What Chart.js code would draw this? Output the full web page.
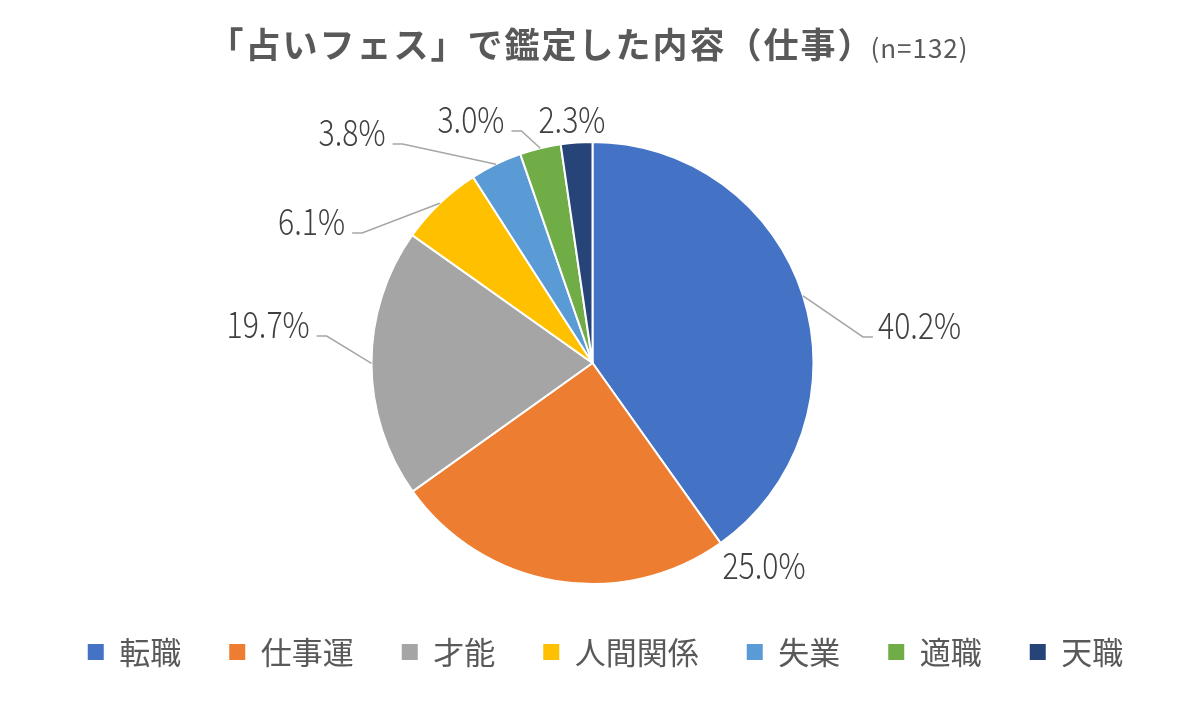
<!DOCTYPE html>
<html><head><meta charset="utf-8">
<script src="https://cdn.jsdelivr.net/npm/chart.js@4"></script>
<style>html,body{margin:0;padding:0;background:#fff;} #wrap{width:1185px;height:712px;position:relative;}</style>
</head><body><div id="wrap"><canvas id="c"></canvas></div>
<script>
const titleMain = '「占いフェス」で鑑定した内容（仕事）';
const titleSub = '(n=132)';
const categories = ['転職', '仕事運', '才能', '人間関係', '失業', '適職', '天職'];
const shares = [40.2, 25.0, 19.7, 6.1, 3.8, 3.0, 2.3];
const colors = ['#4472C4', '#ED7D31', '#A5A5A5', '#FFC000', '#5B9BD5', '#70AD47', '#264478'];

// label layout: offsets of label centres from pie centre, in units of the pie radius
const labelOffsets = [[1.480, -0.172], [0.776, 0.914], [-1.468, -0.176], [-1.271, -0.643], [-1.088, -1.045], [-0.550, -1.104], [-0.093, -1.104]];
const labelLeaders = [true, false, true, true, true, true, false];

const LABEL_FONT = '300 36px "Noto Sans CJK JP", sans-serif';
const LABEL_SCALE_X = 0.84;

const titlePlugin = {
  id: 'titlePlugin',
  afterDraw(chart) {
    const ctx = chart.ctx;
    ctx.save();
    const mainFont = 'bold 35px "Noto Sans CJK JP", sans-serif';
    const subFont = '26px "Noto Sans CJK JP", sans-serif';
    ctx.font = mainFont;
    ctx.letterSpacing = '2px';
    const w1 = ctx.measureText(titleMain).width;
    ctx.font = subFont;
    ctx.letterSpacing = '1px';
    const w2 = ctx.measureText(titleSub).width;
    const gap = -4;
    const total = w1 + gap + w2;
    const x0 = chart.width / 2 - total / 2 - 4;
    const base = 58;
    ctx.fillStyle = '#595959';
    ctx.textBaseline = 'alphabetic';
    ctx.textAlign = 'left';
    ctx.font = mainFont;
    ctx.letterSpacing = '2px';
    ctx.fillText(titleMain, x0, base);
    ctx.font = subFont;
    ctx.letterSpacing = '1px';
    ctx.fillText(titleSub, x0 + w1 + gap, base);
    ctx.restore();
  }
};

const labelPlugin = {
  id: 'labelPlugin',
  afterDatasetsDraw(chart) {
    const ctx = chart.ctx;
    const meta = chart.getDatasetMeta(0);
    ctx.save();
    ctx.font = LABEL_FONT;
    meta.data.forEach((arc, i) => {
      const p = arc.getProps(['x', 'y', 'startAngle', 'endAngle', 'outerRadius'], true);
      const R = p.outerRadius;
      const mid = (p.startAngle + p.endAngle) / 2;
      const ax = p.x + Math.cos(mid) * R;
      const ay = p.y + Math.sin(mid) * R;
      const cx = p.x + labelOffsets[i][0] * R;
      const cy = p.y + labelOffsets[i][1] * R;
      const text = shares[i].toFixed(1) + '%';
      const w = ctx.measureText(text).width * LABEL_SCALE_X;
      if (labelLeaders[i]) {
        let sx, ex;
        if (ax > cx) { sx = cx + w / 2 + 7; ex = sx + 10; }
        else { sx = cx - w / 2 - 5; ex = sx - 10; }
        const ly = cy + 12;
        ctx.beginPath();
        ctx.moveTo(sx, ly);
        ctx.lineTo(ex, ly);
        ctx.lineTo(ax, ay);
        ctx.strokeStyle = '#A6A6A6';
        ctx.lineWidth = 1.5;
        ctx.stroke();
      }
      ctx.save();
      ctx.translate(cx, cy);
      ctx.scale(LABEL_SCALE_X, 1);
      ctx.fillStyle = '#404040';
      ctx.textAlign = 'center';
      ctx.textBaseline = 'middle';
      ctx.fillText(text, 0, 0);
      ctx.restore();
    });
    ctx.restore();
  }
};

const legendShift = {
  id: 'legendShift',
  afterLayout(chart) {
    const lg = chart.legend;
    if (lg) { lg.left += 13; lg.right += 13; }
  }
};

const baseGen = Chart.overrides.pie.plugins.legend.labels.generateLabels;

new Chart(document.getElementById('c'), {
  type: 'pie',
  data: {
    labels: categories,
    datasets: [{
      data: shares,
      backgroundColor: colors,
      borderColor: '#FFFFFF',
      borderWidth: 2,
      radius: 221
    }]
  },
  options: {
    responsive: true,
    maintainAspectRatio: false,
    animation: false,
    layout: { padding: { top: 137.5, bottom: 34.5, left: 0, right: 0 } },
    plugins: {
      title: { display: false },
      tooltip: { enabled: false },
      legend: {
        position: 'bottom',
        labels: {
          color: '#595959',
          font: { size: 31, family: '"Noto Sans CJK JP", sans-serif' },
          boxWidth: 16,
          boxHeight: 16,
          padding: 48,
          generateLabels(chart) {
            return baseGen(chart).map(l => Object.assign(l, { lineWidth: 0 }));
          }
        }
      }
    }
  },
  plugins: [titlePlugin, labelPlugin, legendShift]
});
</script>
</body></html>
